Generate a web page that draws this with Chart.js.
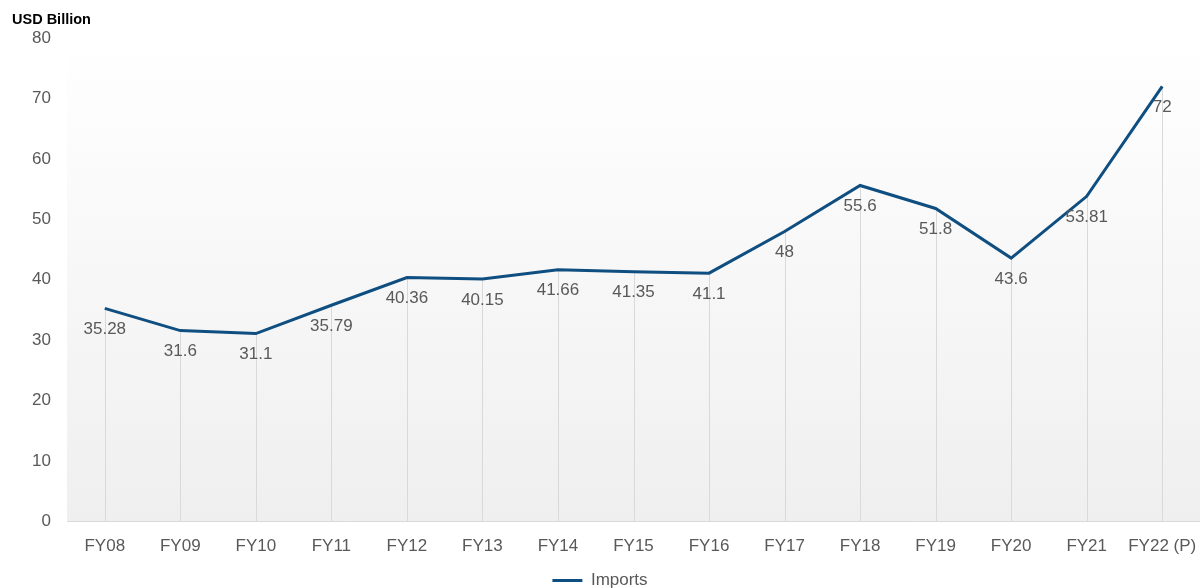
<!DOCTYPE html>
<html><head><meta charset="utf-8">
<script src="https://cdn.jsdelivr.net/npm/chart.js@4.4.1/dist/chart.umd.min.js"></script>
<style>html,body{margin:0;padding:0;background:#fff}#wrap{width:1200px;height:588px;position:relative}</style>
</head><body><div id="wrap"><canvas id="c" width="1200" height="588"></canvas></div>
<script>
const categories = ["FY08","FY09","FY10","FY11","FY12","FY13","FY14","FY15","FY16","FY17","FY18","FY19","FY20","FY21","FY22 (P)"];
const imports = [35.28,31.6,31.1,35.79,40.36,40.15,41.66,41.35,41.1,48,55.6,51.8,43.6,53.81,72];
const yTicks = [0,10,20,30,40,50,60,70,80];
const seriesName = "Imports";
const unitLabel = "USD Billion";

const FONT = "'Liberation Sans', Arial, sans-serif";
const LINE = "#0f4e81";

const bgPlugin = {
  id: 'bg',
  beforeDraw(chart){
    const {ctx, chartArea:a} = chart;
    const g = ctx.createLinearGradient(0, a.top, 0, a.bottom);
    g.addColorStop(0, '#ffffff');
    g.addColorStop(1, '#efefef');
    ctx.save(); ctx.fillStyle = g; ctx.fillRect(a.left, a.top, a.right - a.left, a.bottom - a.top); ctx.restore();
  },
  beforeDatasetsDraw(chart){
    const {ctx} = chart;
    const y0 = chart.scales.y.getPixelForValue(0);
    const meta = chart.getDatasetMeta(0);
    ctx.save(); ctx.strokeStyle = '#d9d9d9'; ctx.lineWidth = 1;
    meta.data.forEach(p => { const x = Math.round(p.x) + 0.5; ctx.beginPath(); ctx.moveTo(x, p.y); ctx.lineTo(x, y0); ctx.stroke(); });
    ctx.restore();
  },
  afterDatasetsDraw(chart){
    const {ctx} = chart;
    const meta = chart.getDatasetMeta(0);
    ctx.save(); ctx.fillStyle = '#595959'; ctx.font = '17px ' + FONT; ctx.textAlign = 'center'; ctx.textBaseline = 'middle';
    meta.data.forEach((p, i) => { ctx.fillText(String(imports[i]), p.x, p.y + 21); });
    ctx.restore();
  },
  afterDraw(chart){
    const {ctx} = chart;
    ctx.save(); ctx.fillStyle = '#000'; ctx.font = 'bold 14.5px ' + FONT; ctx.textBaseline = 'middle'; ctx.textAlign = 'left';
    ctx.fillText(unitLabel, 12, 20); ctx.restore();
  }
};

new Chart(document.getElementById('c'), {
  type: 'line',
  data: { labels: categories, datasets: [{ label: seriesName, data: imports, borderColor: LINE, backgroundColor: LINE, borderWidth: 3, pointRadius: 0, tension: 0, fill: false }] },
  options: {
    responsive: false, animation: false,
    layout: { padding: { top: 38, right: 0, left: 0, bottom: -11 } },
    plugins: {
      legend: { position: 'bottom', labels: { color: '#595959', font: { family: FONT, size: 17 }, boxWidth: 30, boxHeight: 3, padding: 0,
        generateLabels(chart){ const items = Chart.defaults.plugins.legend.labels.generateLabels(chart); items.forEach(it => { it.lineWidth = 0; it.fillStyle = LINE; }); return items; } } },
      tooltip: { enabled: false }
    },
    scales: {
      x: { offset: true, grid: { display: false, drawTicks: false }, border: { color: '#d9d9d9', width: 1 },
           afterFit(s){ s.paddingRight = 0; s.paddingLeft = 0; },
           ticks: { color: '#595959', font: { family: FONT, size: 17 }, padding: 15, maxRotation: 0, autoSkip: false } },
      y: { min: 0, max: 80, afterBuildTicks(s){ s.ticks = yTicks.map(v => ({value: v})); },
           afterFit(s){ s.width = 67; },
           grid: { display: false, drawTicks: false }, border: { display: false },
           ticks: { color: '#595959', font: { family: FONT, size: 17 }, padding: 16 } }
    }
  },
  plugins: [bgPlugin]
});
</script></body></html>
